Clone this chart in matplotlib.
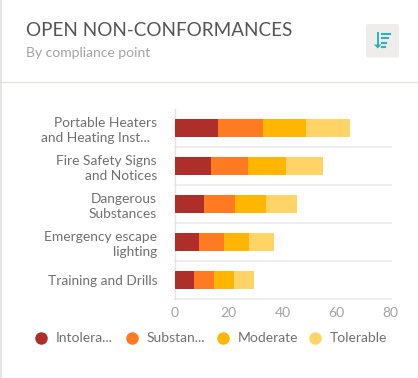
import matplotlib
matplotlib.use("Agg")
import matplotlib.pyplot as plt
from matplotlib.patches import FancyBboxPatch, Polygon
from matplotlib.lines import Line2D

W, H = 418, 378

# data
categories = ["Portable Heaters\nand Heating Inst...  ", "Fire Safety Signs\nand Notices",
              "Dangerous\nSubstances", "Emergency escape\nlighting", "Training and Drills"]
intolerable = [16.0, 13.5, 11.0, 9.0, 7.2]
substantial = [16.6, 13.8, 11.3, 9.3, 7.4]
moderate = [16.0, 13.8, 11.5, 9.3, 7.4]
tolerable = [16.3, 13.7, 11.4, 9.2, 7.4]
series_names = ["Intolera...", "Substan...", "Moderate", "Tolerable"]
x_ticks = [0, 20, 40, 60, 80]

COLORS = ["#ae2e2a", "#ff7a21", "#ffb600", "#ffd366"]
GRID = "#eeeeee"
AXIS = "#e4e4de"

plt.rcParams["font.family"] = ["Lato", "DejaVu Sans"]

fig = plt.figure(figsize=(W / 100, H / 100), dpi=100, facecolor="white")

# full-figure overlay in pixel coords for the card furniture
bg = fig.add_axes([0, 0, 1, 1])
bg.set_xlim(0, W)
bg.set_ylim(H, 0)
bg.axis("off")
bg.plot([0.5, 0.5], [0, H], color="#e2e2e2", lw=1.2)
bg.plot([0, W], [82, 82], color="#e2e2da", lw=0.9)

bg.text(26, 31, "OPEN NON-CONFORMANCES", color="#555555", fontsize=13.6, va="center", ha="left")
bg.text(26, 53, "By compliance point", color="#a3a3a3", fontsize=10, va="center", ha="left")

# sort button
bg.add_patch(FancyBboxPatch((366, 24), 33, 33.5, boxstyle="round,pad=0,rounding_size=2",
                            fc="#eeedeb", ec="none"))
TEAL = "#2ab3bd"
bg.plot([377.7, 377.7], [33, 45], color=TEAL, lw=1.4)
bg.add_patch(Polygon([[374, 44.5], [381.4, 44.5], [377.7, 48.5]], fc=TEAL, ec="none"))
bg.plot([381.5, 390], [34, 34], color=TEAL, lw=1.5)
bg.plot([381.5, 388], [38.3, 38.3], color=TEAL, lw=1.5)
bg.plot([382, 386], [42.7, 42.7], color=TEAL, lw=1.5)
bg.plot([382, 384.5], [47, 47], color=TEAL, lw=1.5)

# chart area: x0=174.5 to x80=390.7, rows y 109-299
left, right, top, bottom = 174.5, 390.7, 109, 299
ax = fig.add_axes([left / W, 1 - bottom / H, (right - left) / W, (bottom - top) / H])
ax.set_xlim(0, 80)
ax.set_ylim(len(categories) - 0.5, -0.5)
ax.patch.set_alpha(0)

ypos = list(range(len(categories)))
running = [0.0] * len(categories)
for vals, c in zip([intolerable, substantial, moderate, tolerable], COLORS):
    ax.barh(ypos, vals, left=running, height=0.47, color=c, zorder=3)
    running = [a + b for a, b in zip(running, vals)]

for sp in ["top", "right", "bottom"]:
    ax.spines[sp].set_visible(False)
ax.spines["left"].set_color(AXIS)
ax.spines["left"].set_linewidth(1.0)

for g in [0.5, 1.5, 2.5, 3.5, 4.5]:
    ax.axhline(g, color=GRID, lw=1.4, zorder=1, clip_on=False)

ax.set_xticks(x_ticks)
ax.set_yticks(ypos)
ax.set_yticklabels(categories, color="#707070", fontsize=9.9, linespacing=1.28, ha="right",
                   multialignment="right")
ax.tick_params(axis="y", length=0, pad=12.6)
ax.tick_params(axis="x", length=0, pad=6, labelsize=10, labelcolor="#a3a3a3")

# legend
lx = [40.7, 132, 223, 314.7]
tx = [56, 147, 238, 329.7]
for x, t, name, c in zip(lx, tx, series_names, COLORS):
    bg.add_line(Line2D([x], [337.5], marker="o", ms=9, mfc=c, mec="none", ls="none"))
    bg.text(t, 337.5, name, color="#707070", fontsize=10, va="center", ha="left")

fig.savefig("out.png", dpi=100)
